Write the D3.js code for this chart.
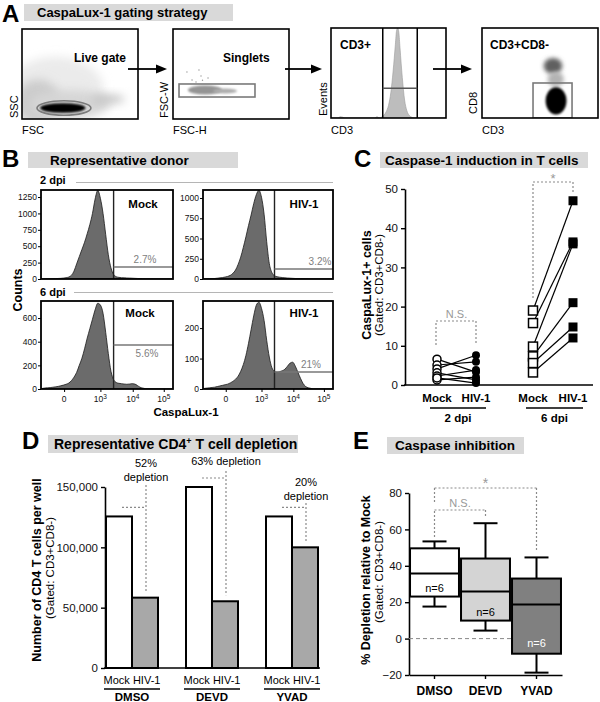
<!DOCTYPE html>
<html><head><meta charset="utf-8">
<script src="https://cdn.jsdelivr.net/npm/d3@7"></script>
<style>
body{margin:0;background:#fff}
svg{display:block;font-family:"Liberation Sans",Arial,Helvetica,sans-serif}
</style></head><body>
<svg id="fig" width="600" height="702"></svg>
<script>
// ================= DATA =================
// Panel A – flow cytometry gating (channels 0-1023; density 0-1)
const liveGateBlobs = [
  {fsc:300, ssc:330, rf:420, rs:380, density:0.08},
  {fsc:141, ssc:190, rf:200, rs:260, density:0.2},
  {fsc:423, ssc:170, rf:353, rs:160, density:0.16},
  {fsc:758, ssc:227, rf:150, rs:50,  density:0.24},
  {fsc:360, ssc:125, rf:200, rs:55,  density:1.0}
];
const liveGate = {fsc:370, ssc:125, rf:238, rs:82};
const singletBlobs = [
  {h:282, w:330, rh:150, rw:51, density:0.42},
  {h:459, w:318, rh:106, rw:28, density:0.32}
];
const singletOutliers = [[123,534],[229,557],[247,489],[168,443],[203,421],[309,466],[260,440]];
const singletGate = {h0:53, h1:723, w0:250, w1:398};
const cd3Hist = [[0,0],[6,0],[8,1.5],[10,1],[12,0],[38,0],[40,1.5],[42,0],[44,1],[46,3],[48,7],[50,14],[52,28],[54,52],[56,82],[57,97],[58,100],[59,95],[60,78],[62,45],[64,20],[66,8],[68,3],[70,1],[72,0],[100,0]];
const cd3Gate = {lo:45, hi:75, level:33};
const cd8Blobs = [
  {cd3:626, cd8:591, r3:82, r8:92,  density:0.62},
  {cd3:650, cd8:440, r3:72, r8:85,  density:0.3},
  {cd3:653, cd8:195, r3:92, r8:155, density:1.0}
];
const cd8Gate = {x0:450, x1:794, y0:0, y1:398};

// Panel B – CaspaLux-1 histograms (channel of bin start, counts)
const bChannels = [0,2,4,6,8,10,12,14,16,18,20,22,24,26,28,30,32,34,36,38,40,42,44,46,48,50,52,54,56,58,60,62,64,66,68,70,72,74,76,78,80,82,84,86,88,90,92,94,96,98];
const hist2Mock = [0,0,2,3,4,6,8,10,14,20,30,55,120,230,340,450,560,690,830,1000,1220,1350,1230,1000,680,370,170,70,35,25,20,18,15,14,12,10,8,6,4,3,2,1,0,0,0,0,0,0,0,0];
const hist2HIV  = [0,0,2,4,6,10,14,18,24,32,45,70,110,180,270,390,520,660,790,930,1040,1095,1010,800,460,190,80,40,28,22,18,15,12,10,8,6,5,4,3,2,1,0,0,0,0,0,0,0,0,0];
const hist6Mock = [5,8,10,12,15,18,22,27,33,40,50,70,100,140,200,260,340,430,510,590,670,725,710,640,480,300,150,80,55,48,45,42,40,42,45,42,30,15,8,3,1,0,0,0,0,0,0,0,0,0];
const hist6HIV  = [2,3,4,5,6,8,10,12,14,16,20,25,32,42,58,80,110,150,195,240,275,285,265,225,160,105,70,58,55,57,60,65,75,85,88,75,55,35,18,8,4,2,0,0,0,0,0,0,0,0];
const bYMax = [1357, 1099, 744, 289];
const bYTicks = [[0,250,500,750,1000,1250],[0,250,500,750,1000],[0,200,400,600],[0,100,200]];
const bGateChannel = 55;
const bGateLevel = [183, 123, 372, 56];
const bConditions = ['Mock','HIV-1','Mock','HIV-1'];
const bPercents = ['2.7%','3.2%','5.6%','21%'];
const bXTicks = [17.5, 45, 69.5, 93];
const bXTickExp = ['', '3', '4', '5'];

// Panel C – % CaspaLux-1+ cells
const cConds = ['Mock 2dpi','HIV-1 2dpi','Mock 6dpi','HIV-1 6dpi'];
const c2Mock = [6.6, 5.1, 4.1, 3.1, 2.3, 1.3, 1.8];
const c2HIV  = [3.3, 5.9, 7.6, 1.3, 3.8, 2.0, 0.5];
const c6Mock = [19.0, 15.8, 9.8, 7.3, 5.6, 3.2];
const c6HIV  = [47.0, 36.5, 36.0, 21.0, 14.8, 12.0];
const cYTicks = [0,10,20,30,40,50];

// Panel D – CD4 T cell counts
const dGroups = ['DMSO','DEVD','YVAD'];
const dSub = ['Mock','HIV-1'];
const dMock = [125600, 150000, 125600];
const dHIV  = [58300, 55300, 100000];
const dDepletion = ['52%','63%','20%'];
const dYTicks = [0,50000,100000,150000];

// Panel E – caspase inhibition box plots
const eGroups = ['DMSO','DEVD','YVAD'];
const eMin = [17.6, 4.4, -18.7];
const eQ1  = [23.1, 9.9, -8.3];
const eMed = [35.8, 25.9, 18.7];
const eQ3  = [49.6, 44.0, 33.0];
const eMax = [53.4, 63.4, 44.6];
const eN   = ['n=6','n=6','n=6'];
const eYTicks = [-20,0,20,40,60,80];

// ================= DRAWING =================
const FONT = '"Liberation Sans",Arial,Helvetica,sans-serif';
const svg = d3.select('#fig');
const defs = svg.append('defs');
function blurFilter(id, sd){
  const f = defs.append('filter').attr('id',id).attr('x','-80%').attr('y','-80%').attr('width','260%').attr('height','260%');
  f.append('feGaussianBlur').attr('stdDeviation',sd);
}
blurFilter('bHeavy',5); blurFilter('bMed',2.2); blurFilter('bLight',1.2);
function clipRect(id,x,y,w,h){ defs.append('clipPath').attr('id',id).append('rect').attr('x',x).attr('y',y).attr('width',w).attr('height',h); }
function txt(p, x, y, s, o={}){
  const t = p.append('text').attr('x',x).attr('y',y).text(s)
    .attr('font-size', o.size||11).attr('font-weight', o.bold?'bold':'normal')
    .attr('fill', o.fill||'#000').attr('text-anchor', o.anchor||'start');
  if(o.rotate) t.attr('transform',`rotate(-90,${x},${y})`);
  return t;
}
function header(letter, lx, ly, bx, by, bw, bh, title, tx, ty, tsize){
  txt(svg, lx, ly, letter, {size:24, bold:true});
  svg.append('rect').attr('x',bx).attr('y',by).attr('width',bw).attr('height',bh).attr('fill','#d9d9d9');
  return txt(svg, tx, ty, title, {size:tsize, bold:true});
}
function frame(x,y,w,h,sw){
  svg.append('rect').attr('x',x).attr('y',y).attr('width',w).attr('height',h)
    .attr('fill','none').attr('stroke','#000').attr('stroke-width',sw||1.6);
}
function arrow(x1,x2,y){
  svg.append('line').attr('x1',x1).attr('x2',x2-9).attr('y1',y).attr('y2',y).attr('stroke','#000').attr('stroke-width',1.8);
  svg.append('path').attr('d',`M${x2-11},${y-4.5}L${x2},${y}L${x2-11},${y+4.5}Z`).attr('fill','#000');
}
function styleAxis(g, size){
  g.attr('font-family',FONT).attr('font-size',size);
  g.select('.domain').attr('stroke-width',1.6);
  g.selectAll('.tick line').attr('stroke-width',1.4);
  g.selectAll('.tick text').attr('fill','#111');
}
const shade = d3.scaleLinear([0,1],['#ffffff','#000000']);
const dotted = {stroke:'#8a8a8a', dash:'2,2', w:1.2};
function dline(x1,y1,x2,y2){
  svg.append('line').attr('x1',x1).attr('y1',y1).attr('x2',x2).attr('y2',y2)
    .attr('stroke',dotted.stroke).attr('stroke-width',dotted.w).attr('stroke-dasharray',dotted.dash);
}

// ---------- Panel A ----------
header('A', 2, 22, 24, 4, 209, 17, 'CaspaLux-1 gating strategy', 37, 17, 13);

// Plot A1 : FSC vs SSC
{
  const b = {x:22,y:29,w:116,h:90};
  const xs = d3.scaleLinear([0,1023],[b.x,b.x+b.w]);
  const ys = d3.scaleLinear([0,1023],[b.y+b.h,b.y]);
  clipRect('cA1',b.x,b.y,b.w,b.h);
  const g = svg.append('g').attr('clip-path','url(#cA1)');
  liveGateBlobs.forEach(d=>{
    g.append('ellipse').attr('cx',xs(d.fsc)).attr('cy',ys(d.ssc))
      .attr('rx',xs(d.rf)-xs(0)).attr('ry',ys(0)-ys(d.rs))
      .attr('fill',shade(d.density)).attr('filter', d.density>0.8?'url(#bLight)':'url(#bHeavy)');
  });
  g.append('ellipse').attr('cx',xs(liveGate.fsc)).attr('cy',ys(liveGate.ssc))
    .attr('rx',xs(liveGate.rf)-xs(0)).attr('ry',ys(0)-ys(liveGate.rs))
    .attr('fill','none').attr('stroke','#7a7a7a').attr('stroke-width',1.6);
  frame(b.x,b.y,b.w,b.h);
  txt(svg, 74, 62, 'Live gate', {size:12, bold:true});
  txt(svg, 18, 118, 'SSC', {size:11, rotate:true});
  txt(svg, 22, 134, 'FSC', {size:11});
}
arrow(128,167,69);
// Plot A2 : FSC-H vs FSC-W
{
  const b = {x:173,y:29,w:116,h:90};
  const xs = d3.scaleLinear([0,1023],[b.x,b.x+b.w]);
  const ys = d3.scaleLinear([0,1023],[b.y+b.h,b.y]);
  clipRect('cA2',b.x,b.y,b.w,b.h);
  const g = svg.append('g').attr('clip-path','url(#cA2)');
  singletBlobs.forEach(d=>{
    g.append('ellipse').attr('cx',xs(d.h)).attr('cy',ys(d.w))
      .attr('rx',xs(d.rh)-xs(0)).attr('ry',ys(0)-ys(d.rw))
      .attr('fill',shade(d.density)).attr('filter','url(#bLight)');
  });
  singletOutliers.forEach(d=>{
    g.append('circle').attr('cx',xs(d[0])).attr('cy',ys(d[1])).attr('r',0.7).attr('fill','#999');
  });
  g.append('rect').attr('x',xs(singletGate.h0)).attr('y',ys(singletGate.w1))
    .attr('width',xs(singletGate.h1)-xs(singletGate.h0)).attr('height',ys(singletGate.w0)-ys(singletGate.w1))
    .attr('fill','none').attr('stroke','#7a7a7a').attr('stroke-width',1.6);
  frame(b.x,b.y,b.w,b.h);
  txt(svg, 223, 62, 'Singlets', {size:12, bold:true});
  txt(svg, 168, 118, 'FSC-W', {size:11, rotate:true});
  txt(svg, 173, 134, 'FSC-H', {size:11});
}
arrow(285,322,69);
// Plot A3 : CD3 histogram
{
  const b = {x:331,y:28,w:115,h:90};
  const xs = d3.scaleLinear([0,100],[b.x,b.x+b.w]);
  const ys = d3.scaleLinear([0,100],[b.y+b.h,b.y]);
  clipRect('cA3',b.x,b.y,b.w,b.h);
  const g = svg.append('g').attr('clip-path','url(#cA3)');
  g.append('path').datum(cd3Hist)
    .attr('d', d3.area().x(d=>xs(d[0])).y0(ys(0)).y1(d=>ys(d[1])).curve(d3.curveMonotoneX))
    .attr('fill','#bdbdbd').attr('stroke','#9a9a9a').attr('stroke-width',0.6);
  [cd3Gate.lo, cd3Gate.hi].forEach(c=>{
    svg.append('line').attr('x1',xs(c)).attr('x2',xs(c)).attr('y1',b.y).attr('y2',b.y+b.h).attr('stroke','#000').attr('stroke-width',1.5);
  });
  svg.append('line').attr('x1',xs(cd3Gate.lo)).attr('x2',xs(cd3Gate.hi)).attr('y1',ys(cd3Gate.level)).attr('y2',ys(cd3Gate.level)).attr('stroke','#555').attr('stroke-width',1.5);
  frame(b.x,b.y,b.w,b.h);
  txt(svg, 340, 49, 'CD3+', {size:12, bold:true});
  txt(svg, 327, 116, 'Events', {size:11, rotate:true});
  txt(svg, 331, 134, 'CD3', {size:11});
}
arrow(433,472,69);
// Plot A4 : CD3 vs CD8
{
  const b = {x:482,y:28,w:116,h:90};
  const xs = d3.scaleLinear([0,1023],[b.x,b.x+b.w]);
  const ys = d3.scaleLinear([0,1023],[b.y+b.h,b.y]);
  clipRect('cA4',b.x,b.y,b.w,b.h);
  const g = svg.append('g').attr('clip-path','url(#cA4)');
  cd8Blobs.forEach(d=>{
    g.append('ellipse').attr('cx',xs(d.cd3)).attr('cy',ys(d.cd8))
      .attr('rx',xs(d.r3)-xs(0)).attr('ry',ys(0)-ys(d.r8))
      .attr('fill',shade(d.density)).attr('filter', d.density>0.8?'url(#bLight)':'url(#bMed)');
  });
  g.append('rect').attr('x',xs(cd8Gate.x0)).attr('y',ys(cd8Gate.y1))
    .attr('width',xs(cd8Gate.x1)-xs(cd8Gate.x0)).attr('height',ys(cd8Gate.y0)-ys(cd8Gate.y1))
    .attr('fill','none').attr('stroke','#7a7a7a').attr('stroke-width',1.6);
  frame(b.x,b.y,b.w,b.h);
  txt(svg, 490, 49, 'CD3+CD8-', {size:12, bold:true});
  txt(svg, 477, 114, 'CD8', {size:11, rotate:true});
  txt(svg, 482, 134, 'CD3', {size:11});
}

// ---------- Panel B ----------
header('B', 2, 167, 28, 152, 210, 16, 'Representative donor', 50, 165, 13.5);
txt(svg, 40, 184, '2 dpi', {size:11, bold:true});
svg.append('line').attr('x1',76).attr('x2',333).attr('y1',182.5).attr('y2',182.5).attr('stroke','#b5b5b5').attr('stroke-width',1);
txt(svg, 40, 296, '6 dpi', {size:11, bold:true});
svg.append('line').attr('x1',74).attr('x2',333).attr('y1',292.5).attr('y2',292.5).attr('stroke','#b5b5b5').attr('stroke-width',1);
txt(svg, 22, 290, 'Counts', {size:12.5, bold:true, rotate:true, anchor:'middle'});
txt(svg, 186, 416, 'CaspaLux-1', {size:11.5, bold:true, anchor:'middle'});
{
  const hists = [hist2Mock, hist2HIV, hist6Mock, hist6HIV];
  const boxes = [{x:41,y:190,w:132,h:89},{x:203,y:190,w:130,h:89},{x:41,y:301,w:132,h:88},{x:203,y:301,w:130,h:88}];
  const labelX = [143,304,140,304];
  const labelY = [208,208,317,317];
  const pctX = [145,320,147,311];
  const pctBelow = [false,false,true,false];
  hists.forEach((h,i)=>{
    const b = boxes[i];
    const xs = d3.scaleLinear([0,100],[b.x,b.x+b.w]);
    const ys = d3.scaleLinear([0,bYMax[i]],[b.y+b.h,b.y]);
    clipRect('cB'+i,b.x,b.y,b.w,b.h);
    const g = svg.append('g').attr('clip-path','url(#cB'+i+')');
    const pts = bChannels.map((c,k)=>[c+1,h[k]]);
    g.append('path').datum(pts)
      .attr('d', d3.area().x(d=>xs(d[0])).y0(ys(0)).y1(d=>ys(d[1])).curve(d3.curveMonotoneX))
      .attr('fill','#6b6b6b').attr('stroke','#1a1a1a').attr('stroke-width',0.8);
    svg.append('line').attr('x1',xs(bGateChannel)).attr('x2',xs(bGateChannel)).attr('y1',b.y).attr('y2',b.y+b.h).attr('stroke','#222').attr('stroke-width',1.4);
    svg.append('line').attr('x1',xs(bGateChannel)).attr('x2',b.x+b.w).attr('y1',ys(bGateLevel[i])).attr('y2',ys(bGateLevel[i])).attr('stroke','#777').attr('stroke-width',1.4);
    frame(b.x,b.y,b.w,b.h,1.8);
    const ga = svg.append('g').attr('transform',`translate(${b.x},0)`)
      .call(d3.axisLeft(ys).tickValues(bYTicks[i]).tickFormat(d3.format('d')).tickSize(3).tickSizeOuter(0).tickPadding(1));
    styleAxis(ga, 8.5);
    ga.select('.domain').remove();
    ga.selectAll('.tick line').attr('stroke-width',1);
    if(i>=2){
      const gx = svg.append('g').attr('transform',`translate(0,${b.y+b.h})`)
        .call(d3.axisBottom(xs).tickValues(bXTicks).tickSize(3).tickSizeOuter(0).tickFormat(''));
      gx.select('.domain').remove();
      gx.selectAll('.tick line').attr('stroke-width',1);
      bXTicks.forEach((c,k)=>{
        const t = svg.append('text').attr('x',xs(c)).attr('y',b.y+b.h+13).attr('text-anchor','middle')
          .attr('font-size',8.5).attr('fill','#111');
        if(bXTickExp[k]===''){ t.text('0'); }
        else { t.append('tspan').text('10'); t.append('tspan').attr('dy',-3.5).attr('font-size',6.5).text(bXTickExp[k]); }
      });
    }
    txt(svg, labelX[i], labelY[i], bConditions[i], {size:11.5, bold:true, anchor:'middle'});
    const py = pctBelow[i] ? ys(bGateLevel[i])+12 : ys(bGateLevel[i])-4;
    txt(svg, pctX[i], py, bPercents[i], {size:10, fill:'#808080', anchor:'middle'});
  });
}

// ---------- Panel C ----------
header('C', 354, 167, 380, 152, 208, 16, 'Caspase-1 induction in T cells', 385, 165, 13.5);
{
  const yC = d3.scaleLinear([0,50],[385,189]);
  const xC = d3.scaleOrdinal(cConds,[437,476,533,573]);
  const ga = svg.append('g').attr('transform','translate(405,0)')
    .call(d3.axisLeft(yC).tickValues(cYTicks).tickSize(4).tickSizeOuter(0));
  styleAxis(ga, 11.5);
  svg.append('line').attr('x1',404).attr('x2',593).attr('y1',385).attr('y2',385).attr('stroke','#000').attr('stroke-width',1.6);
  txt(svg, 371, 285, 'CaspaLux-1+ cells', {size:12.5, bold:true, rotate:true, anchor:'middle'});
  txt(svg, 383, 285, '(Gated: CD3+CD8-)', {size:11.5, rotate:true, anchor:'middle'});
  const pairs = [[c2Mock,c2HIV,0],[c6Mock,c6HIV,2]];
  pairs.forEach(([m,h,o])=>{
    m.forEach((v,i)=>{
      svg.append('line').attr('x1',xC(cConds[o])).attr('y1',yC(v)).attr('x2',xC(cConds[o+1])).attr('y2',yC(h[i]))
        .attr('stroke','#000').attr('stroke-width',1.2);
    });
  });
  c2Mock.forEach(v=>svg.append('circle').attr('cx',xC(cConds[0])).attr('cy',yC(v)).attr('r',4).attr('fill','#fff').attr('stroke','#000').attr('stroke-width',1.5));
  c2HIV.forEach(v=>svg.append('circle').attr('cx',xC(cConds[1])).attr('cy',yC(v)).attr('r',4).attr('fill','#000'));
  c6Mock.forEach(v=>svg.append('rect').attr('x',xC(cConds[2])-4.5).attr('y',yC(v)-4.5).attr('width',9).attr('height',9).attr('fill','#fff').attr('stroke','#000').attr('stroke-width',1.5));
  c6HIV.forEach(v=>svg.append('rect').attr('x',xC(cConds[3])-4.5).attr('y',yC(v)-4.5).attr('width',9).attr('height',9).attr('fill','#000'));
  cConds.forEach(c=>txt(svg, xC(c), 402, c.split(' ')[0], {size:11.5, bold:true, anchor:'middle'}));
  [[0,1,'2 dpi'],[2,3,'6 dpi']].forEach(([a,b,l])=>{
    const x1 = xC(cConds[a])-7, x2 = xC(cConds[b])+10;
    svg.append('line').attr('x1',x1).attr('x2',x2).attr('y1',408).attr('y2',408).attr('stroke','#000').attr('stroke-width',1.5);
    txt(svg, (x1+x2)/2, 422, l, {size:11.5, bold:true, anchor:'middle'});
  });
  const m2 = xC(cConds[0]), h2 = xC(cConds[1]), m6 = xC(cConds[2]), h6 = xC(cConds[3]);
  dline(m2-1,345,m2-1,321); dline(m2-1,321,h2,321); dline(h2,321,h2,345);
  txt(svg, (m2+h2)/2, 318, 'N.S.', {size:11, fill:'#999', anchor:'middle'});
  dline(m6,298,m6,182); dline(m6,182,h6,182); dline(h6,182,h6,194);
  txt(svg, (m6+h6)/2, 183, '*', {size:13, fill:'#999', anchor:'middle'});
}

// ---------- Panel D ----------
{
  txt(svg, 22, 449, 'D', {size:24, bold:true});
  svg.append('rect').attr('x',48).attr('y',435).attr('width',250).attr('height',18).attr('fill','#d9d9d9');
  const t = svg.append('text').attr('x',54).attr('y',449).attr('font-size',14).attr('font-weight','bold');
  t.append('tspan').text('Representative CD4');
  t.append('tspan').attr('dy',-5).attr('font-size',9).text('+');
  t.append('tspan').attr('dy',5).text(' T cell depletion');

  const yD = d3.scaleLinear([0,150000],[668,487]);
  const xG = d3.scaleBand(dGroups,[92,332]);
  const xS = d3.scaleBand(dSub,[14,66]);
  const ga = svg.append('g').attr('transform','translate(105,0)')
    .call(d3.axisLeft(yD).tickValues(dYTicks).tickFormat(d3.format(',')).tickSize(4).tickSizeOuter(0));
  styleAxis(ga, 11.5);
  dGroups.forEach((gname,i)=>{
    [[dMock[i],'#ffffff',0],[dHIV[i],'#a8a8a8',1]].forEach(([v,f,k])=>{
      svg.append('rect').attr('x',xG(gname)+xS(dSub[k])).attr('y',yD(v))
        .attr('width',xS.bandwidth()).attr('height',yD(0)-yD(v))
        .attr('fill',f).attr('stroke','#000').attr('stroke-width',2);
    });
  });
  svg.append('line').attr('x1',104).attr('x2',320).attr('y1',668).attr('y2',668).attr('stroke','#000').attr('stroke-width',1.6);
  dGroups.forEach(gname=>{
    const c = xG(gname)+xG.bandwidth()/2;
    txt(svg, c, 684, dSub.join(' '), {size:11, anchor:'middle'});
    svg.append('line').attr('x1',c-28).attr('x2',c+28).attr('y1',689).attr('y2',689).attr('stroke','#000').attr('stroke-width',1.5);
    txt(svg, c, 701, gname, {size:11.5, bold:true, anchor:'middle'});
  });
  const textTop = [485, 471, 503];
  dGroups.forEach((gname,i)=>{
    const mc = xG(gname)+xS(dSub[0])+xS.bandwidth()/2;
    const hc = xG(gname)+xS(dSub[1])+xS.bandwidth()/2;
    const hy = yD(dMock[i])-9;
    dline(mc+3, hy, hc+1, hy);
    dline(hc+1, textTop[i], hc+1, yD(dHIV[i])-6);
    if(i===1){
      txt(svg, hc+1, 465, dDepletion[i]+' depletion', {size:11, anchor:'middle'});
    } else {
      const base = i===0 ? 467 : 486;
      txt(svg, hc+1, base, dDepletion[i], {size:11, anchor:'middle'});
      txt(svg, hc+1, base+14, 'depletion', {size:11, anchor:'middle'});
    }
  });
  txt(svg, 41, 570, 'Number of CD4 T cells per well', {size:12.5, bold:true, rotate:true, anchor:'middle'});
  txt(svg, 54, 568, '(Gated: CD3+CD8-)', {size:11.5, rotate:true, anchor:'middle'});
}

// ---------- Panel E ----------
header('E', 353, 449, 387, 437, 137, 17, 'Caspase inhibition', 395, 450, 13.5);
{
  const yE = d3.scaleLinear([-20,80],[675,493]);
  const xE = d3.scaleBand(eGroups,[409,562]).paddingInner(0.04).paddingOuter(0.02);
  const fills = ['#ffffff','#d4d4d4','#808080'];
  const ga = svg.append('g').attr('transform','translate(409,0)')
    .call(d3.axisLeft(yE).tickValues(eYTicks).tickSize(4).tickSizeOuter(0));
  styleAxis(ga, 11.5);
  svg.append('line').attr('x1',409).attr('x2',562).attr('y1',yE(0)).attr('y2',yE(0)).attr('stroke','#888').attr('stroke-width',1).attr('stroke-dasharray','4,3');
  eGroups.forEach((gname,i)=>{
    const x0 = xE(gname), w = xE.bandwidth(), c = x0+w/2;
    const sw = 2;
    svg.append('line').attr('x1',c).attr('x2',c).attr('y1',yE(eMax[i])).attr('y2',yE(eQ3[i])).attr('stroke','#000').attr('stroke-width',sw);
    svg.append('line').attr('x1',c).attr('x2',c).attr('y1',yE(eQ1[i])).attr('y2',yE(eMin[i])).attr('stroke','#000').attr('stroke-width',sw);
    [eMax[i],eMin[i]].forEach(v=>svg.append('line').attr('x1',c-12).attr('x2',c+12).attr('y1',yE(v)).attr('y2',yE(v)).attr('stroke','#000').attr('stroke-width',sw));
    svg.append('rect').attr('x',x0).attr('y',yE(eQ3[i])).attr('width',w).attr('height',yE(eQ1[i])-yE(eQ3[i]))
      .attr('fill',fills[i]).attr('stroke','#000').attr('stroke-width',sw);
    svg.append('line').attr('x1',x0).attr('x2',x0+w).attr('y1',yE(eMed[i])).attr('y2',yE(eMed[i])).attr('stroke','#000').attr('stroke-width',sw);
    const ny = [592, 616, 647][i];
    txt(svg, c, ny, eN[i], {size:11, anchor:'middle', fill: i===2?'#fff':'#000'});
  });
  const gx = svg.append('g').attr('transform','translate(0,675)')
    .call(d3.axisBottom(xE).tickSize(4).tickSizeOuter(0));
  styleAxis(gx, 12);
  gx.selectAll('.tick text').attr('font-weight','bold').attr('dy','1.1em').attr('fill','#000');
  txt(svg, 370, 580, '% Depletion relative to Mock', {size:12.5, bold:true, rotate:true, anchor:'middle'});
  txt(svg, 383, 572, '(Gated: CD3+CD8-)', {size:11.5, rotate:true, anchor:'middle'});
  const cD = xE('DMSO')+xE.bandwidth()/2, cV = xE('DEVD')+xE.bandwidth()/2, cY = xE('YVAD')+xE.bandwidth()/2;
  dline(cD,537,cD,510); dline(cD,510,cV,510); dline(cV,510,cV,517);
  txt(svg, (cD+cV)/2, 507, 'N.S.', {size:11, fill:'#999', anchor:'middle'});
  dline(cD,502,cD,488); dline(cD,488,cY,488); dline(cY,488,cY,552);
  txt(svg, (cD+cY)/2, 488, '*', {size:14, fill:'#999', anchor:'middle'});
}
</script>
</body></html>
